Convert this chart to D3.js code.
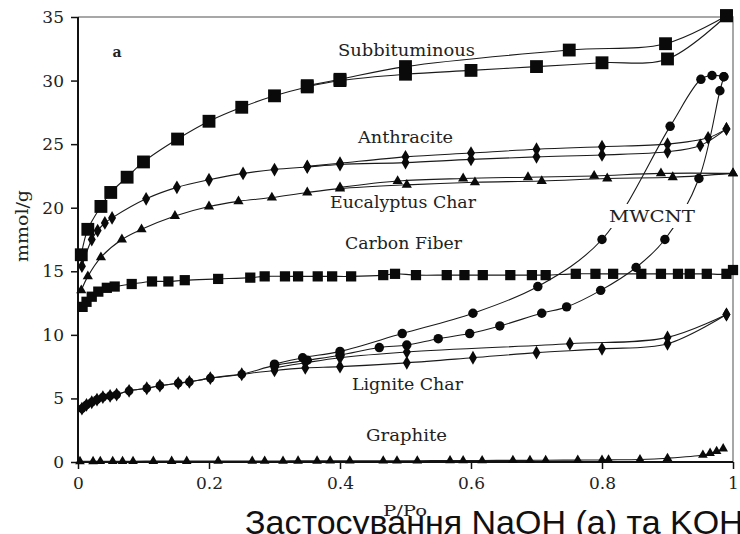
<!DOCTYPE html>
<html>
<head>
<meta charset="utf-8">
<script src="https://cdn.jsdelivr.net/npm/d3@7"></script>
<style>
  body { margin: 0; background: #fff; }
  svg { display: block; overflow: hidden; }
  .tick text { font-family: "DejaVu Serif", serif; font-size: 17px; fill: #222; }
  .lbl { font-family: "DejaVu Serif", serif; font-size: 17px; fill: #222; }
</style>
</head>
<body>
<div class="chart"></div>
<script>
// ---- data: [P/Po, mmol/g] ----
const subbitAds = [[0.005,16.3],[0.015,18.3],[0.035,20.1],[0.05,21.2],[0.075,22.4],[0.10,23.6],[0.152,25.4],[0.20,26.8],[0.25,27.9],[0.30,28.8],[0.35,29.5],[0.40,30.0],[0.50,30.5],[0.60,30.8],[0.70,31.1],[0.80,31.4],[0.90,31.7],[0.99,35.1]]
const subbitDes = [[0.99,35.1],[0.897,32.9],[0.75,32.4],[0.50,31.1],[0.40,30.1],[0.35,29.6]]

const anthrAds = [[0.006,15.4],[0.021,17.5],[0.03,18.2],[0.041,18.8],[0.052,19.2],[0.104,20.7],[0.151,21.6],[0.20,22.2],[0.252,22.7],[0.30,23.0],[0.35,23.2],[0.40,23.4],[0.50,23.55],[0.60,23.8],[0.70,24.0],[0.80,24.15],[0.90,24.4],[0.95,24.9],[0.99,26.2]]
const anthrDes = [[0.99,26.2],[0.962,25.5],[0.90,25.0],[0.80,24.8],[0.70,24.6],[0.60,24.3],[0.50,24.0],[0.40,23.5],[0.35,23.25]]

const eucaAds = [[0.005,13.5],[0.015,14.6],[0.035,16.1],[0.067,17.5],[0.097,18.3],[0.148,19.35],[0.20,20.1],[0.245,20.5],[0.296,20.8],[0.35,21.2],[0.40,21.5],[0.502,21.8],[0.606,22.0],[0.708,22.1],[0.808,22.3],[0.908,22.4],[1.0,22.7]]
const eucaDes = [[1.0,22.7],[0.89,22.7],[0.788,22.5],[0.687,22.4],[0.588,22.3],[0.488,22.1],[0.40,21.6]]

const fiber = [[0.007,12.2],[0.013,12.6],[0.021,13.0],[0.031,13.4],[0.044,13.7],[0.056,13.8],[0.082,14.0],[0.113,14.2],[0.138,14.2],[0.163,14.3],[0.214,14.4],[0.263,14.5],[0.285,14.6],[0.316,14.6],[0.336,14.6],[0.366,14.6],[0.388,14.6],[0.417,14.6],[0.466,14.7],[0.484,14.8],[0.516,14.7],[0.563,14.7],[0.59,14.7],[0.618,14.7],[0.66,14.7],[0.693,14.7],[0.714,14.7],[0.76,14.8],[0.79,14.8],[0.817,14.8],[0.86,14.8],[0.89,14.8],[0.916,14.8],[0.934,14.8],[0.96,14.8],[0.99,14.8],[1.0,15.1]]

// low pressure part shared by Lignite Char and MWCNT
const lowPart = [[0.006,4.2],[0.013,4.5],[0.021,4.7],[0.029,4.9],[0.038,5.1],[0.049,5.2],[0.059,5.3],[0.078,5.6],[0.105,5.8],[0.125,6.0],[0.153,6.2],[0.17,6.3],[0.202,6.6],[0.25,6.9]]

const mwcntAds = [[0.30,7.6],[0.35,8.0],[0.40,8.4],[0.46,9.0],[0.502,9.2],[0.55,9.7],[0.598,10.1],[0.644,10.7],[0.708,11.7],[0.746,12.2],[0.798,13.5],[0.852,15.3],[0.896,17.5],[0.948,22.3],[0.98,29.2],[0.986,30.3]]
const mwcntDes = [[0.986,30.3],[0.968,30.4],[0.951,30.1],[0.904,26.4],[0.80,17.5],[0.702,13.8],[0.603,11.7],[0.495,10.1],[0.40,8.7],[0.343,8.2],[0.30,7.7]]

const ligniteAds = [[0.30,7.2],[0.347,7.4],[0.40,7.5],[0.502,7.8],[0.603,8.2],[0.70,8.6],[0.80,8.9],[0.90,9.3],[0.99,11.6]]
const ligniteDes = [[0.99,11.6],[0.90,9.8],[0.751,9.3],[0.502,8.65],[0.40,8.2],[0.347,7.8],[0.30,7.4]]

const graphite = [[0.003,0.05],[0.023,0.05],[0.034,0.06],[0.053,0.06],[0.068,0.06],[0.084,0.06],[0.115,0.07],[0.143,0.07],[0.166,0.07],[0.214,0.08],[0.266,0.08],[0.285,0.08],[0.313,0.08],[0.336,0.09],[0.365,0.09],[0.385,0.1],[0.415,0.1],[0.466,0.1],[0.487,0.1],[0.518,0.1],[0.568,0.12],[0.588,0.12],[0.617,0.12],[0.664,0.13],[0.69,0.13],[0.714,0.14],[0.763,0.15],[0.80,0.16],[0.81,0.17],[0.858,0.2],[0.90,0.3],[0.954,0.55],[0.965,0.7],[0.975,0.85],[0.985,1.05]]

const xTicks = [0, 0.2, 0.4, 0.6, 0.8, 1]
const xTickLabels = ["0", "0.2", "0.4", "0.6", "0.8", "1"]
const yTicks = [0, 5, 10, 15, 20, 25, 30, 35]

const W = 740, H = 534
const margin = {top: 17, right: 7, bottom: 72, left: 78}
const width = W - margin.left - margin.right,
      height = H - margin.top - margin.bottom

const svg0 = d3.select(".chart").append("svg")
    .attr("width", W)
    .attr("height", H)

let svg = svg0.append("g")
    .attr("transform", "translate(" + margin.left + "," + margin.top + ")")

const xScale = d3.scaleLinear().domain([0, 1]).range([0, width])
const yScale = d3.scaleLinear().domain([0, 35]).range([height, 0])

// frame (top + right)
svg.append("path")
    .attr("d", `M0,0H${width}V${height}`)
    .attr("fill", "none")
    .attr("stroke", "#8a8a8a")
    .attr("stroke-width", 1.5)

let xAxis = d3.axisBottom(xScale).tickValues(xTicks)
    .tickFormat((d, i) => xTickLabels[i]).tickSize(7).tickPadding(8)
let yAxis = d3.axisLeft(yScale).tickValues(yTicks).tickSize(7).tickPadding(7)

svg.append("g").attr("class", "axis x-axis")
    .attr("transform", `translate(0, ${height})`)
    .call(xAxis)
svg.append("g").attr("class", "axis y-axis")
    .call(yAxis)

svg.selectAll(".axis .domain").attr("stroke", "#111").attr("stroke-width", 2)
svg.selectAll(".axis .tick line").attr("stroke", "#111").attr("stroke-width", 1.5)
svg.selectAll(".y-axis .domain").attr("d", `M0,${height}V0`)
svg.selectAll(".x-axis .domain").attr("d", `M0,0H${width}`)

const line = d3.line()
    .x(d => xScale(d[0]))
    .y(d => yScale(d[1]))
    .curve(d3.curveCatmullRom.alpha(0.5))

function drawLine(data) {
    svg.append("path")
        .datum(data)
        .attr("fill", "none")
        .attr("stroke", "#1a1a1a")
        .attr("stroke-width", 1.1)
        .attr("d", line)
}

function drawMarks(data, type, size) {
    svg.append("g").selectAll("path")
        .data(data)
        .enter().append("path")
        .attr("transform", d => `translate(${xScale(d[0])},${yScale(d[1])})`)
        .attr("d", d3.symbol().type(type).size(size))
        .attr("fill", "#0a0a0a")
}

// lines
drawLine(subbitAds); drawLine(subbitDes)
drawLine(anthrAds); drawLine(anthrDes)
drawLine(eucaAds); drawLine(eucaDes)
drawLine(fiber)
drawLine(lowPart.concat(mwcntAds)); drawLine(mwcntDes)
drawLine(lowPart.concat(ligniteAds)); drawLine(ligniteDes)
drawLine(graphite)

// markers
drawMarks(subbitAds.concat(subbitDes), d3.symbolSquare, 165)
drawMarks(fiber, d3.symbolSquare, 105)
drawMarks(anthrAds.concat(anthrDes), d3.symbolDiamond, 55)
drawMarks(eucaAds.concat(eucaDes), d3.symbolTriangle, 45)
drawMarks(lowPart, d3.symbolCircle, 60)
drawMarks(lowPart, d3.symbolDiamond, 55)
drawMarks(mwcntAds.concat(mwcntDes), d3.symbolCircle, 70)
drawMarks(ligniteAds.concat(ligniteDes), d3.symbolDiamond, 55)
drawMarks(graphite, d3.symbolTriangle, 40)

// labels
const labels = [
    {t: "Subbituminous", x: 338, y: 56, w: 137},
    {t: "Anthracite", x: 358, y: 143, w: 95},
    {t: "Eucalyptus Char", x: 330, y: 208, w: 146},
    {t: "Carbon Fiber", x: 345, y: 249, w: 117},
    {t: "MWCNT", x: 609, y: 222, w: 86, bg: true},
    {t: "Lignite Char", x: 352, y: 390, w: 111},
    {t: "Graphite", x: 366, y: 441, w: 81}
]
labels.forEach(l => {
    if (l.bg) {
        svg0.append("rect")
            .attr("x", l.x - 5).attr("y", l.y - 18)
            .attr("width", l.w + 10).attr("height", 24)
            .attr("fill", "#fff")
    }
    svg0.append("text").attr("class", "lbl")
        .attr("x", l.x).attr("y", l.y)
        .attr("textLength", l.w).attr("lengthAdjust", "spacingAndGlyphs")
        .text(l.t)
})

svg0.append("text").attr("class", "lbl")
    .attr("x", 117).attr("y", 57)
    .attr("text-anchor", "middle")
    .style("font-size", "14px").style("font-weight", "bold")
    .text("a")

svg0.append("text").attr("class", "lbl")
    .attr("transform", "translate(28,226) rotate(-90)")
    .attr("text-anchor", "middle")
    .attr("textLength", 72).attr("lengthAdjust", "spacingAndGlyphs")
    .text("mmol/g")

svg0.append("text")
    .attr("x", 245).attr("y", 534)
    .style("font-family", "'Liberation Sans', Arial, sans-serif")
    .style("font-size", "34px")
    .attr("fill", "#111")
    .text("Застосування NaOH (а) та KOH")

svg0.append("text").attr("class", "lbl")
    .attr("x", 383).attr("y", 516)
    .style("font-size", "15px")
    .attr("textLength", 44).attr("lengthAdjust", "spacingAndGlyphs")
    .text("P/Po")
</script>
</body>
</html>
